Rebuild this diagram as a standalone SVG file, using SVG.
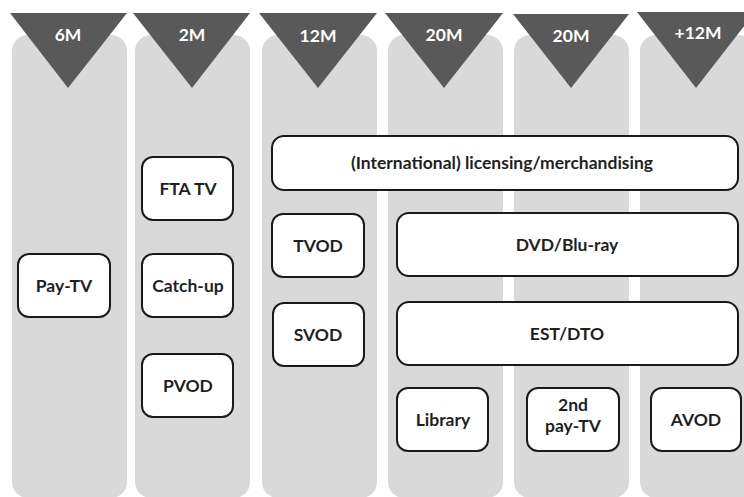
<svg xmlns="http://www.w3.org/2000/svg" width="744" height="497" viewBox="0 0 744 497">
<style>
.col{fill:#d9d9d9}
.tri{fill:#595959}
.tl{fill:#ffffff;font-family:Lato,"Liberation Sans",sans-serif;font-weight:bold;font-size:17.5px;text-anchor:middle}
.box{fill:#ffffff;stroke:#1a1a1a;stroke-width:2}
.bt{fill:#1f1f1f;font-family:Lato,"Liberation Sans",sans-serif;font-weight:bold;font-size:17.5px;text-anchor:middle}
</style>
<rect width="744" height="497" fill="#ffffff"/>
<g id="columns">
<rect class="col" x="12" y="35" width="115" height="463" rx="16"/>
<rect class="col" x="135" y="35" width="115" height="463" rx="16"/>
<rect class="col" x="262" y="35" width="115" height="463" rx="16"/>
<rect class="col" x="388" y="35" width="115" height="463" rx="16"/>
<rect class="col" x="514" y="35" width="115" height="463" rx="16"/>
<rect class="col" x="640" y="35" width="115" height="463" rx="16"/>
</g>
<g id="markers">
<polygon class="tri" points="10,13 127,13 68,88"/>
<polygon class="tri" points="133,13 250,13 192,88"/>
<polygon class="tri" points="259,13 377,13 318,88"/>
<polygon class="tri" points="385,13 503,13 444,88"/>
<polygon class="tri" points="513,14 629,14 571,88"/>
<polygon class="tri" points="637,12 755,12 696,88"/>
<text class="tl" x="68" y="41">6M</text>
<text class="tl" x="192" y="41">2M</text>
<text class="tl" x="318" y="42">12M</text>
<text class="tl" x="444" y="41">20M</text>
<text class="tl" x="571" y="42">20M</text>
<text class="tl" x="698" y="39">+12M</text>
</g>
<g id="connectors"></g>
<g id="pay-tv"><rect class="box" x="18" y="254" width="92" height="63" rx="11"/><text class="bt" x="64" y="292">Pay-TV</text></g>
<g id="fta-tv"><rect class="box" x="142" y="157" width="91" height="63" rx="11"/><text class="bt" x="188" y="195">FTA TV</text></g>
<g id="catch-up"><rect class="box" x="142" y="254" width="91" height="63" rx="11"/><text class="bt" x="188" y="292">Catch-up</text></g>
<g id="pvod"><rect class="box" x="142" y="354" width="91" height="63" rx="11"/><text class="bt" x="188" y="392">PVOD</text></g>
<g id="tvod"><rect class="box" x="272" y="214" width="92" height="63" rx="11"/><text class="bt" x="318" y="252">TVOD</text></g>
<g id="svod"><rect class="box" x="273" y="303" width="91" height="63" rx="11"/><text class="bt" x="318" y="341">SVOD</text></g>
<g id="licensing"><rect class="box" x="272" y="136" width="466" height="54" rx="12"/><text class="bt" x="502" y="169">(International) licensing/merchandising</text></g>
<g id="dvd"><rect class="box" x="397" y="213" width="341" height="63" rx="12"/><text class="bt" x="567" y="251">DVD/Blu-ray</text></g>
<g id="est-dto"><rect class="box" x="397" y="302" width="341" height="63" rx="12"/><text class="bt" x="567" y="340">EST/DTO</text></g>
<g id="library"><rect class="box" x="397" y="388" width="91" height="63" rx="11"/><text class="bt" x="443" y="426">Library</text></g>
<g id="second-pay-tv"><rect class="box" x="527" y="388" width="92" height="63" rx="11"/><text class="bt" x="573" y="411">2nd</text><text class="bt" x="573" y="432">pay-TV</text></g>
<g id="avod"><rect class="box" x="651" y="388" width="90" height="63" rx="11"/><text class="bt" x="696" y="426">AVOD</text></g>
</svg>
